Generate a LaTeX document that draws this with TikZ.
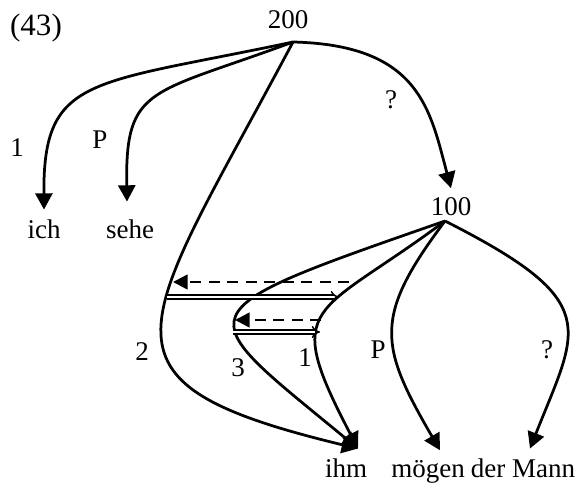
\documentclass[tikz,border=0pt]{standalone}
\usepackage{fontspec}
\setmainfont{Liberation Serif}
\usetikzlibrary{arrows.meta,positioning,calc}

\begin{document}
\begin{tikzpicture}[x=0.4pt,y=-0.4pt,font=\fontsize{10.8pt}{13pt}\selectfont,line width=1.1pt,
	dep/.style={-{Triangle[length=6.5pt,width=6.8pt]}},
	link/.style={double,double distance=1pt,line width=0.6pt,-{Implies}},
	back/.style={dash pattern=on 4.4pt off 3pt,line width=1pt,-{Triangle[length=5.8pt,width=5.8pt]}}]
	\useasboundingbox (0,0) rectangle (584,485);
	\node[font=\fontsize{12.4pt}{15pt}\selectfont] (ex) at (36,28) {(43)};
	% heads and words
	\node (n200) at (288,20) {200};
	\node (n100) at (451,207) {100};
	\coordinate (r200) at (293,42);
	\coordinate (r100) at (445,221);
	\node[anchor=base] (ich) at (44,238) {ich};
	\node[anchor=base] (sehe) at (130,238) {sehe};
	\node[anchor=base] (ihm) at (346,477) {ihm};
	\node[anchor=base] (moegen) at (428,477) {mögen};
	\node[anchor=base] (mann) at (523,477) {der Mann};
	\foreach \n/\x/\y/\t in {lich/17/148/1, lsehe/100/140/P, lcomp/391/100/?, lihmA/142/352/2, lihmB/238/368/3, lihmC/305/358/1, lmoegen/378/350/P, lmann/547/350/?} {\node (\n) at (\x,\y) {\t};}
	% dependencies
	\draw[dep] (r200) .. controls (90,85) and (43,75) .. (ich.north);
	\draw[dep] (r200) .. controls (150,95) and (125,85) .. ($(sehe.north)+(-3,-8)$);
	\draw[dep] (r200) .. controls (420,45) and (430,110) .. (n100.north);
	\draw[dep] (r200) .. controls (139,332) and (78,381) .. ($(ihm.north)+(12,0)$);
	\draw[dep] (r100) .. controls (175,315) and (189,309) .. ($(ihm.north)+(12,0)$);
	\draw[dep] (r100) .. controls (315,318) and (280,300) .. ($(ihm.north)+(12,0)$);
	\draw[dep] (r100) .. controls (373,317) and (379,345) .. ($(moegen.north)+(12,0)$);
	\draw[dep] (r100) .. controls (605,302) and (578,327) .. ($(mann.north)+(7,0)$);
	% passing and returning
	\coordinate (a1) at (167,297); \coordinate (b1) at (339,297);
	\coordinate (c1) at (349,282); \coordinate (d1) at (173,282);
	\coordinate (a2) at (233,332); \coordinate (b2) at (320,332);
	\coordinate (c2) at (321,320); \coordinate (d2) at (235,320);
	\draw[link] (a1) -- (b1);
	\draw[back] (c1) -- (d1);
	\draw[link] (a2) -- (b2);
	\draw[back] (c2) -- (d2);
\end{tikzpicture}
\end{document}
